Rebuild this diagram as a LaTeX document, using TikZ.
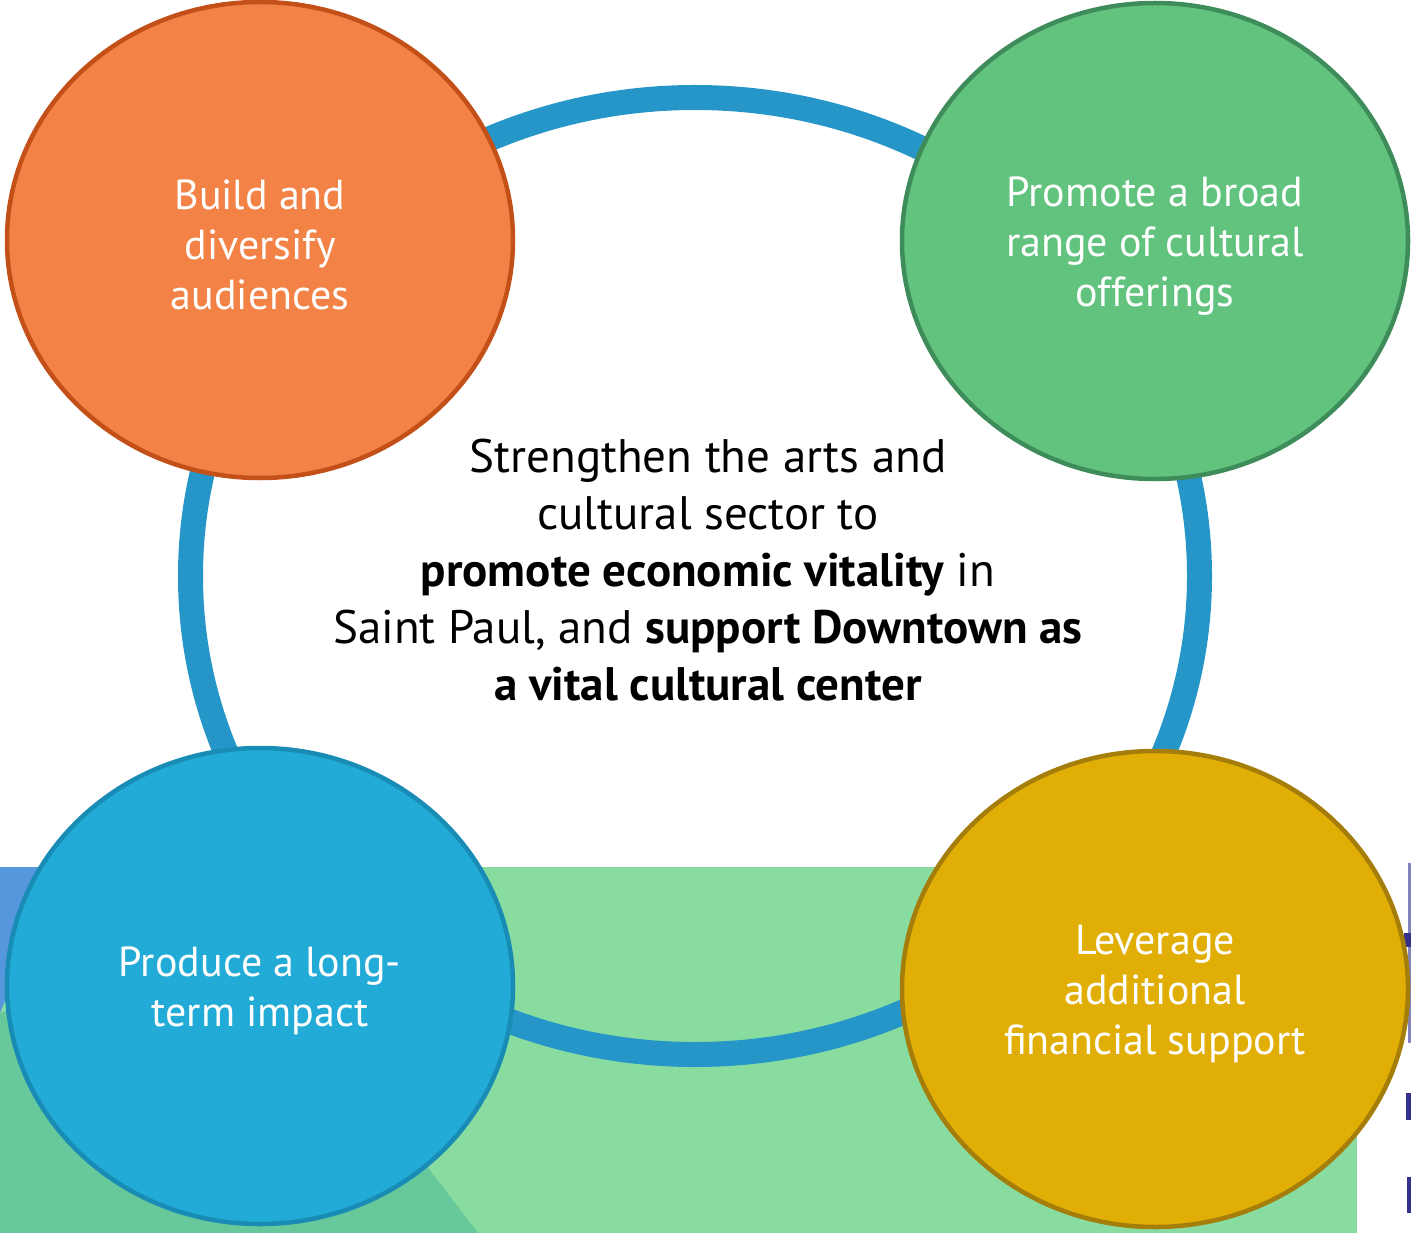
\documentclass[tikz,border=0pt]{standalone}
\usepackage{fontspec}
\setmainfont{PT Sans}
\usetikzlibrary{shapes.geometric}
\definecolor{ringc}{RGB}{38,150,200}
\definecolor{orf}{RGB}{243,130,70}
\definecolor{ord}{RGB}{196,80,25}
\definecolor{grf}{RGB}{98,195,126}
\definecolor{grd}{RGB}{62,140,90}
\definecolor{blf}{RGB}{34,171,214}
\definecolor{bld}{RGB}{24,140,180}
\definecolor{gof}{RGB}{225,174,5}
\definecolor{god}{RGB}{165,125,10}
\definecolor{lgreen}{RGB}{136,220,160}
\definecolor{mgreen}{RGB}{102,200,155}
\definecolor{lblue}{RGB}{85,150,220}
\definecolor{navy}{RGB}{50,50,140}
\begin{document}
\begin{tikzpicture}[x=1pt,y=-1pt,
  bubble/.style={ellipse, line width=4.5pt, minimum width=506pt, minimum height=476pt,
    inner sep=0pt, align=center, text=white,
    font=\fontsize{42pt}{50pt}\selectfont},
  hub/.style={align=center, text=black, font=\fontsize{47pt}{57pt}\selectfont}]
\useasboundingbox (0,0) rectangle (1411,1233);
% background shapes
\fill[lgreen] (0,867) rectangle (1357,1233);
\fill[lblue] (0,867) -- (60,867) -- (0,1013) -- cycle;
\fill[mgreen] (0,1013) -- (250,935) -- (478,1233) -- (0,1233) -- cycle;
% right edge fragments
\fill[navy!60] (1408,863) rectangle (1411,1043);
\fill[navy] (1404,933) rectangle (1411,947);
\fill[navy] (1406,1093) rectangle (1411,1120);
\fill[navy] (1407,1177) rectangle (1411,1213);
% ring
\node[ellipse, draw=ringc, line width=25pt, minimum width=1009pt, minimum height=957pt, inner sep=0pt] (ring) at (695,576) {};
% bubbles
\node[bubble, draw=ord, fill=orf] (build) at (260,240) {};
\node[align=center, text=white, font=\fontsize{42pt}{50pt}\selectfont] (buildtext) at (260,245) {Build and\\diversify\\audiences};
\node[bubble, draw=grd, fill=grf] (promote) at (1155,241) {};
\node[align=center, text=white, font=\fontsize{42pt}{50pt}\selectfont] (promotetext) at (1155,246) {Promote a broad\\range of cultural\\offerings};
\node[bubble, draw=bld, fill=blf] (produce) at (260,986) {};
\node[align=center, text=white, font=\fontsize{42pt}{50pt}\selectfont] (producetext) at (260,991) {Produce a long-\\term impact};
\node[bubble, draw=god, fill=gof] (leverage) at (1155,989) {};
\node[align=center, text=white, font=\fontsize{42pt}{50pt}\selectfont] (leveragetext) at (1155,994) {Leverage\\additional\\financial support};
% center text
\node[hub] (center) at (708,570) {Strengthen the arts and\\cultural sector to\\\textbf{promote economic vitality} in\\Saint Paul, and \textbf{support Downtown as}\\\textbf{a vital cultural center}};
\end{tikzpicture}
\end{document}
